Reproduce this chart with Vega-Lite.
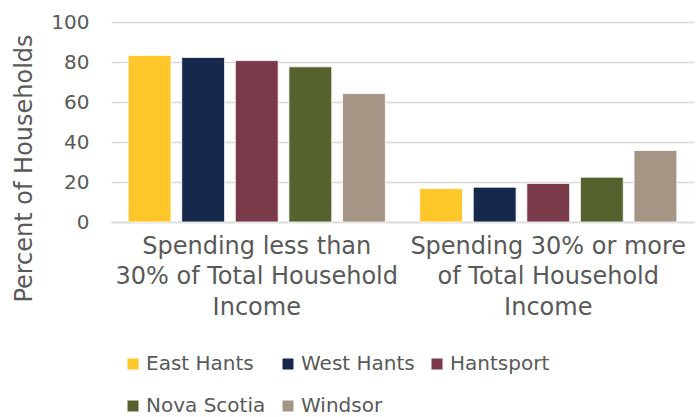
{
  "$schema": "https://vega.github.io/schema/vega-lite/v6.json",
  "width": 583,
  "height": 200,
  "autosize": "none",
  "padding": {"left": 111, "top": 22, "right": 2, "bottom": 195},
  "background": "white",
  "config": {
    "font": "DejaVu Sans",
    "view": {"stroke": null},
    "axis": {"labelColor": "#595959", "titleColor": "#595959", "labelFont": "DejaVu Sans", "titleFont": "DejaVu Sans", "titleFontWeight": "normal"},
    "legend": {"labelColor": "#595959", "labelFont": "DejaVu Sans", "padding": 0}
  },
  "data": {
    "values": [
      {"category": "Spending less than|30% of Total Household|Income", "region": "East Hants", "value": 83.3},
      {"category": "Spending less than|30% of Total Household|Income", "region": "West Hants", "value": 82.3},
      {"category": "Spending less than|30% of Total Household|Income", "region": "Hantsport", "value": 80.7},
      {"category": "Spending less than|30% of Total Household|Income", "region": "Nova Scotia", "value": 77.6},
      {"category": "Spending less than|30% of Total Household|Income", "region": "Windsor", "value": 64.2},
      {"category": "Spending 30% or more|of Total Household|Income", "region": "East Hants", "value": 16.7},
      {"category": "Spending 30% or more|of Total Household|Income", "region": "West Hants", "value": 17.4},
      {"category": "Spending 30% or more|of Total Household|Income", "region": "Hantsport", "value": 19.3},
      {"category": "Spending 30% or more|of Total Household|Income", "region": "Nova Scotia", "value": 22.4},
      {"category": "Spending 30% or more|of Total Household|Income", "region": "Windsor", "value": 35.8}
    ]
  },
  "mark": {"type": "bar", "stroke": "white", "strokeWidth": 0.8},
  "encoding": {
    "x": {
      "field": "category", "type": "nominal", "sort": null,
      "scale": {"paddingInner": 0, "paddingOuter": 0},
      "axis": {
        "title": null, "labelAngle": 0, "ticks": false,
        "domainColor": "#d9d9d9", "domainWidth": 1.5,
        "labelFontSize": 24, "labelLineHeight": 30.5, "labelPadding": 12,
        "labelExpr": "split(datum.label, '|')", "labelLimit": 400
      }
    },
    "xOffset": {
      "field": "region", "type": "nominal", "sort": ["East Hants", "West Hants", "Hantsport", "Nova Scotia", "Windsor"],
      "scale": {"paddingInner": 0.2, "paddingOuter": 0.32}
    },
    "y": {
      "field": "value", "type": "quantitative",
      "scale": {"domain": [0, 100]},
      "axis": {
        "title": "Percent of Households", "titleFontSize": 24,
        "values": [0, 20, 40, 60, 80, 100],
        "domain": false, "ticks": false, "labelPadding": 22, "labelFontSize": 20,
        "gridColor": "#d9d9d9", "gridWidth": 1.5,
        "titleX": -87, "titleY": 146, "titleAngle": 270, "titleAlign": "center", "titleBaseline": "middle"
      }
    },
    "color": {
      "field": "region", "type": "nominal",
      "sort": ["East Hants", "West Hants", "Hantsport", "Nova Scotia", "Windsor"],
      "scale": {"domain": ["East Hants", "West Hants", "Hantsport", "Nova Scotia", "Windsor"], "range": ["#FFC629", "#16284B", "#7A3A4A", "#56622E", "#A59584"]},
      "legend": {
        "title": null, "orient": "none", "legendX": 12, "legendY": 332, "direction": "horizontal", "columns": 3,
        "symbolType": "square", "symbolSize": 121, "symbolStrokeWidth": 0,
        "labelFontSize": 20, "rowPadding": 22, "columnPadding": 12, "labelOffset": 3
      }
    }
  }
}
